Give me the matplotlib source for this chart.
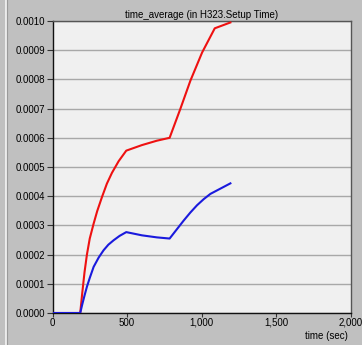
import matplotlib
matplotlib.use("Agg")
import matplotlib.pyplot as plt
from matplotlib.ticker import FuncFormatter
from matplotlib.lines import Line2D

plt.rcParams['font.family'] = ['Liberation Sans', 'DejaVu Sans']

# Data
red_t = [0, 186, 200, 215, 231, 250, 276, 300, 332, 365, 399, 444, 495,
         600, 700, 786, 858, 925, 1004, 1089, 1194]
red_v = [0, 0, 0.00007, 0.00014, 0.000200, 0.000255, 0.000306, 0.000349, 0.000397,
         0.000443, 0.000480, 0.000520, 0.000556,
         0.000575, 0.000590, 0.000600, 0.000699, 0.000795, 0.000892, 0.000975, 0.000995]
blue_t = [0, 186, 200, 215, 231, 250, 276, 310, 343, 375, 410, 450, 495,
          600, 700, 786, 835, 881, 925, 970, 1015, 1060, 1194]
blue_v = [0, 0, 0.00003, 0.00006, 0.00009, 0.00012, 0.000158, 0.00019, 0.000215,
          0.000234, 0.000249, 0.000264, 0.000277,
          0.000266, 0.000259, 0.000255, 0.000287, 0.000317, 0.000344, 0.000369,
          0.00039, 0.000408, 0.000444]

title = "time_average (in H323.Setup Time)"
xlabel = "time (sec)"
yticks = [i * 0.0001 for i in range(11)]
xticks = [0, 500, 1000, 1500, 2000]

fig = plt.figure(figsize=(3.62, 3.45), dpi=100, facecolor='#c0c0c0')
ax = fig.add_axes([52.5/362, 1 - 313/345, (350.5-52.5)/362, (313-21)/345])
ax.set_facecolor('#f0f0f0')

ax.plot(red_t, red_v, color='#ee1111', lw=1.5, zorder=3)
ax.plot(blue_t, blue_v, color='#1a1add', lw=1.5, zorder=3)

ax.set_xlim(0, 2000)
ax.set_ylim(0, 0.001)
ax.set_xticks(xticks)
ax.set_yticks(yticks)
ax.xaxis.set_major_formatter(FuncFormatter(lambda v, p: f"{int(v):,}"))
ax.yaxis.set_major_formatter(FuncFormatter(lambda v, p: f"{v:.4f}"))
ax.grid(axis='y', color='#a8a8a8', lw=1.0)
ax.set_axisbelow(True)

ax.tick_params(axis='both', labelsize=7, length=4, width=0.8, color='#333333', pad=1.5)
ax.tick_params(axis='x', length=3, pad=0.5)
for s in ['left', 'bottom']:
    ax.spines[s].set_color('#111111')
    ax.spines[s].set_linewidth(1.0)
for s in ['top', 'right']:
    ax.spines[s].set_color('#555555')
    ax.spines[s].set_linewidth(1.0)

ax.set_title(title, fontsize=7, pad=2)
fig.text(348/362, 1 - 336/345, xlabel, fontsize=7, ha='right', va='center')

# left border decoration of the window
fig.add_artist(Line2D([5.5/362, 5.5/362], [0, 1], color='#f4f4f4', lw=1.2, transform=fig.transFigure))
fig.add_artist(Line2D([7/362, 7/362], [0, 1], color='#9a9a9a', lw=0.8, transform=fig.transFigure))

fig.savefig('out.png', dpi=100, facecolor=fig.get_facecolor())
